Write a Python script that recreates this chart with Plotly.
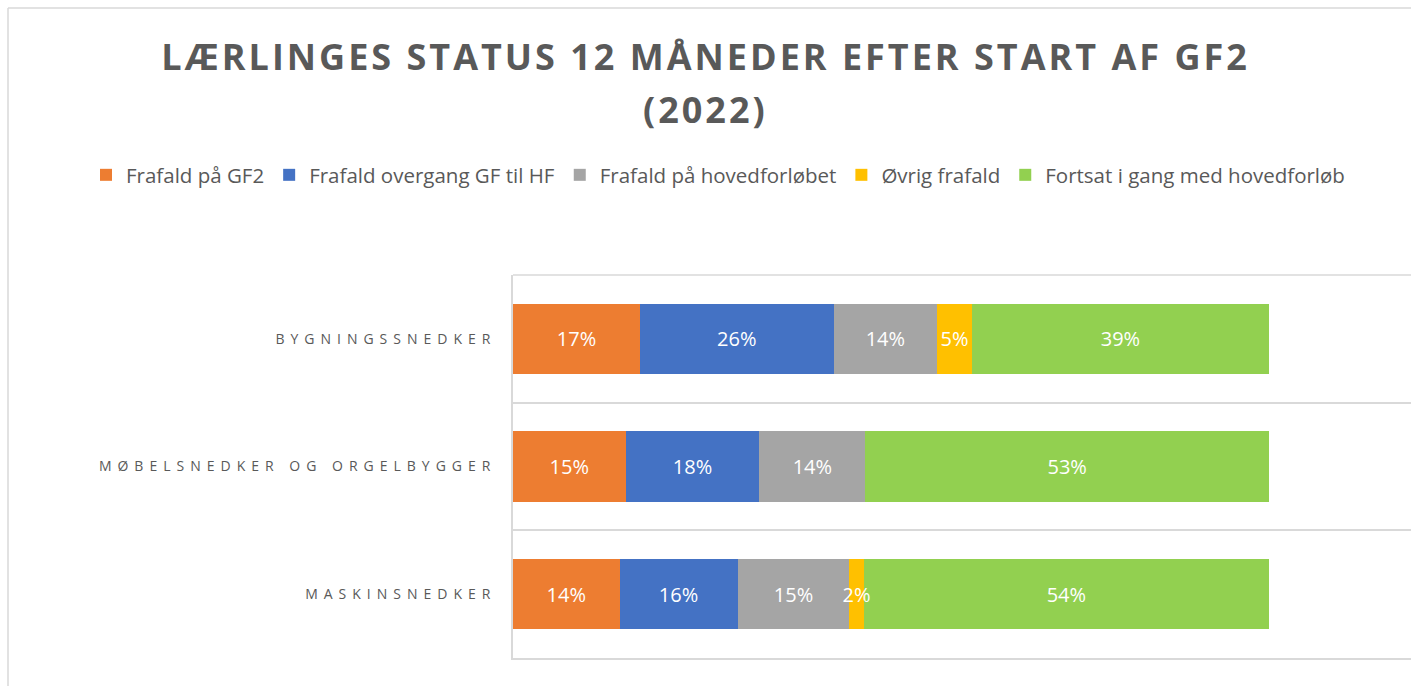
import plotly.graph_objects as go

categories = ["BYGNINGSSNEDKER", "MØBELSNEDKER OG ORGELBYGGER", "MASKINSNEDKER"]
series_names = ["Frafald på GF2", "Frafald overgang GF til HF", "Frafald på hovedforløbet",
                "Øvrig frafald", "Fortsat i gang med hovedforløb"]
frafald_gf2 = [0.168, 0.149, 0.141]
frafald_overgang = [0.256, 0.177, 0.156]
frafald_hovedforloeb = [0.137, 0.140, 0.148]
oevrig_frafald = [0.046, None, 0.019]
fortsat = [0.393, 0.534, 0.536]
series_values = [frafald_gf2, frafald_overgang, frafald_hovedforloeb, oevrig_frafald, fortsat]
colors = ["#ED7D31", "#4472C4", "#A5A5A5", "#FFC000", "#92D050"]
title_line1 = "LÆRLINGES STATUS 12 MÅNEDER EFTER START AF GF2"
title_line2 = "(2022)"

W, H = 1411, 686
L, R, T, B = 513, 0, 275, 28
px_per_unit = 756  # pixel width of 100 %

fig = go.Figure()
for name, vals, col in zip(series_names, series_values, colors):
    fig.add_trace(go.Bar(
        y=categories, x=vals, name=name, orientation="h",
        marker=dict(color=col, line=dict(width=0)),
        texttemplate="%{x:.0%}", textposition="inside", insidetextanchor="middle",
        textangle=0, cliponaxis=False,
        textfont=dict(family="Open Sans", size=20, color="white"),
        constraintext="none",
    ))

plot_w = W - L - R
plot_h = H - T - B

def px_x(p):
    return (p - L) / plot_w

def px_y(p):
    return (H - B - p) / plot_h

title_font = dict(family="Open Sans", size=36, color="#595959", weight="bold")

fig.update_layout(
    width=W, height=H, barmode="stack", bargap=0.45,
    margin=dict(l=L, r=R, t=T, b=B, autoexpand=False),
    paper_bgcolor="white", plot_bgcolor="white",
    title=dict(text=title_line1, x=0.5, xref="container", xanchor="center",
               y=1 - 57 / H, yref="container", yanchor="middle", font=title_font),
    annotations=[dict(text=title_line2, x=px_x(W / 2), xref="paper", xanchor="center",
                      y=px_y(109), yref="paper", yanchor="middle", showarrow=False,
                      font=title_font)],
    legend=dict(orientation="h", x=px_x(86), xref="paper", xanchor="left",
                y=px_y(175), yref="paper", yanchor="middle",
                font=dict(family="Open Sans", size=20.5, color="#595959"),
                traceorder="normal", itemclick=False),
    xaxis=dict(range=[0, plot_w / px_per_unit], showgrid=False, zeroline=False,
               showticklabels=False, showline=True, linecolor="#D9D9D9", linewidth=1.5),
    yaxis=dict(range=[2.5, -0.5], tickson="boundaries", showgrid=True,
               gridcolor="#D9D9D9", gridwidth=1.5, ticks="", showline=True,
               linecolor="#D9D9D9", linewidth=1.5, ticklabelstandoff=12,
               tickfont=dict(family="Open Sans", size=14, color="#595959")),
    shapes=[
        dict(type="line", xref="paper", yref="paper", x0=px_x(8), x1=px_x(8), y0=px_y(8), y1=px_y(H + 5),
             line=dict(color="#D9D9D9", width=1.5)),
        dict(type="line", xref="paper", yref="paper", x0=px_x(8), x1=px_x(W + 5), y0=px_y(8), y1=px_y(8),
             line=dict(color="#D9D9D9", width=1.5)),
        dict(type="line", xref="paper", yref="paper", x0=0, x1=1, y0=1, y1=1,
             line=dict(color="#D9D9D9", width=1.5)),
    ],
)

post = """
var s = document.createElement('style');
s.innerHTML = 'html,body{margin:0;padding:0;overflow:hidden;} .ytick text{letter-spacing:6px;} .gtitle, .annotation-text{letter-spacing:3px;}';
document.head.appendChild(s);
// draw the narrow yellow segments (and their labels) above their neighbours
var traces = document.querySelectorAll('.barlayer .trace');
if (traces.length >= 4) { traces[3].parentNode.appendChild(traces[3]); }
"""
fig.write_html("out.html", post_script=post, config={"displayModeBar": False})
